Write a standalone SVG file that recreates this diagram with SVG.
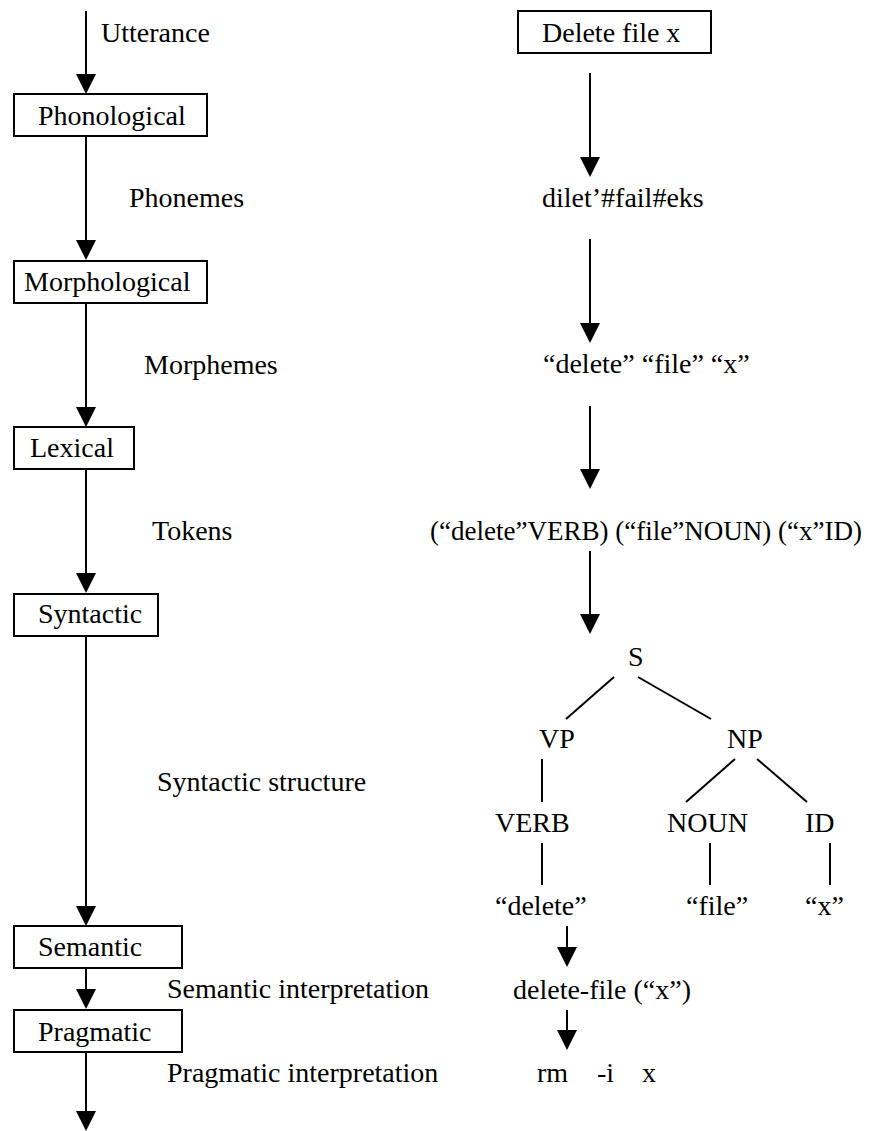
<svg xmlns="http://www.w3.org/2000/svg" width="879" height="1131" viewBox="0 0 879 1131">
<style>
text{font-family:"Liberation Serif","Times New Roman",serif;font-size:28px;fill:#000}
.box{fill:#fff;stroke:#000;stroke-width:2}
.ln{stroke:#000;stroke-width:2;fill:none}
.ar{stroke:#000;stroke-width:2;fill:none;marker-end:url(#ah)}
</style>
<defs>
<marker id="ah" markerUnits="userSpaceOnUse" markerWidth="20" markerHeight="20" refX="0" refY="10" orient="auto" overflow="visible">
<path d="M0,0 L20,10 L0,20 Z" fill="#000"/>
</marker>
</defs>
<rect width="879" height="1131" fill="#fff"/>
<g id="connectors">
<line class="ar" x1="86" y1="11" x2="86" y2="74"/>
<line class="ar" x1="86" y1="136" x2="86" y2="240"/>
<line class="ar" x1="86" y1="303" x2="86" y2="407"/>
<line class="ar" x1="86" y1="469" x2="86" y2="573"/>
<line class="ar" x1="86" y1="636" x2="86" y2="906"/>
<line class="ar" x1="86" y1="968" x2="86" y2="989"/>
<line class="ar" x1="86" y1="1052" x2="86" y2="1111"/>
<line class="ar" x1="590" y1="73" x2="590" y2="157"/>
<line class="ar" x1="590" y1="239" x2="590" y2="323"/>
<line class="ar" x1="590" y1="406" x2="590" y2="469"/>
<line class="ar" x1="590" y1="551" x2="590" y2="614"/>
<line class="ln" x1="614" y1="677" x2="566" y2="719"/>
<line class="ln" x1="638" y1="677" x2="711" y2="719"/>
<line class="ln" x1="542" y1="759" x2="542" y2="802"/>
<line class="ln" x1="735" y1="759" x2="686" y2="802"/>
<line class="ln" x1="757" y1="759" x2="807" y2="802"/>
<line class="ln" x1="542" y1="843" x2="542" y2="885"/>
<line class="ln" x1="710" y1="843" x2="710" y2="885"/>
<line class="ln" x1="830" y1="843" x2="830" y2="885"/>
<line class="ar" x1="567" y1="926" x2="567" y2="947"/>
<line class="ar" x1="567" y1="1010" x2="567" y2="1030"/>
</g>
<g id="utterance-label"><text x="101" y="42">Utterance</text></g>
<g id="phonological"><rect class="box" x="14" y="94" width="193" height="42"/><text x="38" y="125">Phonological</text></g>
<g id="phonemes-label"><text x="129" y="207">Phonemes</text></g>
<g id="morphological"><rect class="box" x="14" y="261" width="193" height="42"/><text x="24" y="291">Morphological</text></g>
<g id="morphemes-label"><text x="144" y="374">Morphemes</text></g>
<g id="lexical"><rect class="box" x="14" y="427" width="120" height="42"/><text x="30" y="457">Lexical</text></g>
<g id="tokens-label"><text x="152" y="540">Tokens</text></g>
<g id="syntactic"><rect class="box" x="14" y="594" width="144" height="42"/><text x="38" y="623">Syntactic</text></g>
<g id="syntactic-structure-label"><text x="157" y="791">Syntactic structure</text></g>
<g id="semantic"><rect class="box" x="14" y="926" width="168" height="42"/><text x="38" y="956">Semantic</text></g>
<g id="semantic-interpretation-label"><text x="167" y="998">Semantic interpretation</text></g>
<g id="pragmatic"><rect class="box" x="14" y="1010" width="168" height="42"/><text x="38" y="1041">Pragmatic</text></g>
<g id="pragmatic-interpretation-label"><text x="167" y="1082">Pragmatic interpretation</text></g>
<g id="delete-file-x"><rect class="box" x="518" y="11" width="193" height="42"/><text x="542" y="42">Delete file x</text></g>
<g id="phoneme-string"><text x="542" y="207">dilet’#fail#eks</text></g>
<g id="morpheme-string"><text x="543" y="373">“delete” “file” “x”</text></g>
<g id="token-string"><text x="430" y="540" textLength="432" lengthAdjust="spacingAndGlyphs">(“delete”VERB) (“file”NOUN) (“x”ID)</text></g>
<g id="tree-S"><text x="628" y="666">S</text></g>
<g id="tree-VP"><text x="539" y="748">VP</text></g>
<g id="tree-NP"><text x="727" y="748">NP</text></g>
<g id="tree-VERB"><text x="495" y="832">VERB</text></g>
<g id="tree-NOUN"><text x="667" y="832">NOUN</text></g>
<g id="tree-ID"><text x="805" y="832">ID</text></g>
<g id="leaf-delete"><text x="495" y="915">“delete”</text></g>
<g id="leaf-file"><text x="686" y="915">“file”</text></g>
<g id="leaf-x"><text x="805" y="915">“x”</text></g>
<g id="semantic-form"><text x="513" y="999">delete-file (“x”)</text></g>
<g id="command"><text y="1082"><tspan x="537">rm</tspan><tspan x="597">-i</tspan><tspan x="642">x</tspan></text></g>
</svg>
